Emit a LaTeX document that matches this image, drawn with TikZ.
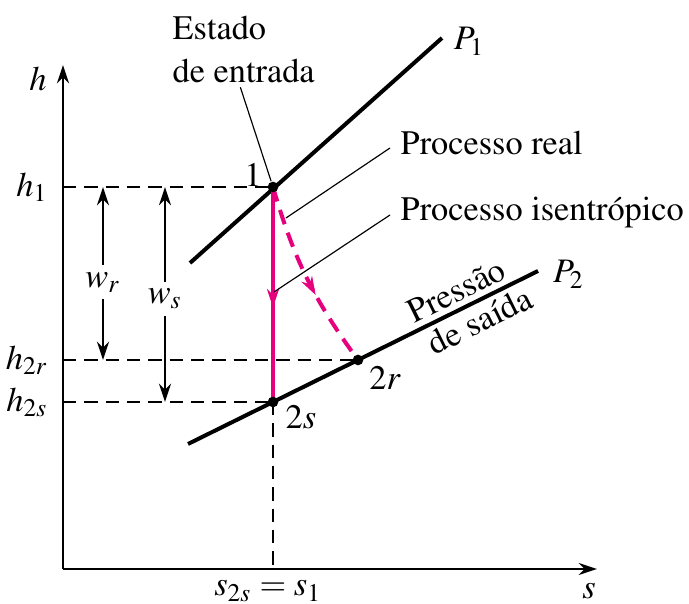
\documentclass[tikz,border=0pt]{standalone}
\usepackage[T1]{fontenc}
\usepackage{mathptmx}
\usepackage{tikz}
\usetikzlibrary{arrows.meta,decorations.markings,positioning}
\definecolor{procmagenta}{HTML}{E6007E}

\begin{document}
\begin{tikzpicture}[x=0.3pt,y=-0.3pt,>={Stealth[length=5.5pt,width=3.6pt]},
  font=\fontsize{10.3}{12.9}\selectfont,
  axis/.style={line width=0.6pt,->},
  pline/.style={line width=1.2pt},
  guide/.style={line width=0.6pt,dash pattern=on 4pt off 2.4pt},
  leader/.style={line width=0.35pt},
  proc/.style={line width=1.2pt,procmagenta},
  dot/.style={circle,fill=black,inner sep=0pt,minimum size=3.2pt},
  midarrow/.style={decoration={markings,mark=at position #1 with {\arrow{>}}},postaction={decorate}}]
  \useasboundingbox (0,0) rectangle (689,604);
  % states and axes
  \coordinate (o) at (63,569);
  \coordinate (htop) at (63,65);
  \coordinate (sright) at (597,569);
  \coordinate (c1) at (273,187);
  \coordinate (c2r) at (358,360);
  \coordinate (c2s) at (273,402);
  \coordinate (hone) at (63,187);
  \coordinate (htwor) at (63,360);
  \coordinate (htwos) at (63,402);
  \coordinate (sone) at (273,569);
  \coordinate (p1a) at (190,263);
  \coordinate (p1b) at (442,38);
  \coordinate (p2a) at (188,444);
  \coordinate (p2b) at (538,271);
  \draw[axis] (o) -- (htop);
  \draw[axis] (o) -- (sright);
  \node (hlab) at (38,79) {$h$};
  \node (slab) at (589,591) {$s$};
  \node (s1lab) at (268,591) {$s_{2s} = s_1$};
  % dashed guides
  \draw[guide] (hone) -- (c1);
  \draw[guide] (htwor) -- (c2r);
  \draw[guide] (htwos) -- (c2s);
  \draw[guide] (c2s) -- (sone);
  \node[left=1pt of hone] (h1lab) {$h_1$};
  \node[left=1pt of htwor] (h2rlab) {$h_{2r}$};
  \node[left=1pt of htwos] (h2slab) {$h_{2s}$};
  % work
  \coordinate (wrtop) at (103,187);
  \coordinate (wrbot) at (103,360);
  \coordinate (wstop) at (165,187);
  \coordinate (wsbot) at (165,402);
  \draw[<->,line width=0.6pt] (wrtop) -- node[fill=white,inner sep=2pt,pos=0.55] (wr) {$w_r$} (wrbot);
  \draw[<->,line width=0.6pt] (wstop) -- node[fill=white,inner sep=2pt,pos=0.52] (ws) {$w_s$} (wsbot);
  % isobars
  \draw[pline] (p1a) -- (p1b);
  \draw[pline] (p2a) -- (p2b)
    node[pos=0.79,sloped,above,inner sep=1.5pt] (pres) {Press\~ao}
    node[pos=0.81,sloped,below,inner sep=1.5pt] (said) {de sa\'{\i}da};
  \node[right=0pt of p1b,yshift=-1pt] (P1) {$P_1$};
  \node[right=1pt of p2b,yshift=-1pt] (P2) {$P_2$};
  % processes
  \draw[proc,midarrow=0.56] (c1) -- (c2s);
  \draw[proc,dash pattern=on 4.5pt off 2.7pt,midarrow=0.6] (c1) to[bend right=10] (c2r);
  \node[dot] (st1) at (c1) {};
  \node[dot] (st2r) at (c2r) {};
  \node[dot] (st2s) at (c2s) {};
  \node (one) at (253,175) {1};
  \node (tworlab) at (385,378) {$2r$};
  \node (twoslab) at (301,417) {$2s$};
  % labels
  \node[anchor=north west,inner sep=0pt,align=left] (estado) at (172,16) {Estado\\de entrada};
  \node[anchor=west,inner sep=0pt] (real) at (400,143) {Processo real};
  \node[anchor=west,inner sep=0pt] (isen) at (400,213) {Processo isentr\'opico};
  \coordinate (realtip) at (286,218);
  \coordinate (isentip) at (274,292);
  \draw[leader] ([xshift=-1pt,yshift=-1pt]estado.south) -- (st1);
  \draw[leader] ([xshift=-3pt,yshift=-1.5pt]real.west) -- (realtip);
  \draw[leader] ([xshift=-3pt,yshift=-0.6pt]isen.west) -- (isentip);
\end{tikzpicture}
\end{document}
